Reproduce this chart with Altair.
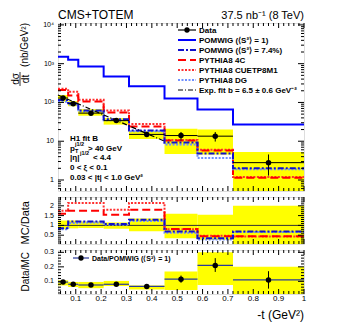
import altair as alt
import pandas as pd

# ---------------- data ----------------
edges = [0.03, 0.07, 0.11, 0.21, 0.31, 0.45, 0.58, 0.72, 1.0]
centers = [0.05, 0.09, 0.16, 0.26, 0.38, 0.515, 0.65, 0.86]

data_xsec = [130, 93, 53, 34, 15, 14, 13.5, 2.8]
data_err_lo = [122, 87, 49.5, 31.5, 13, 10.5, 9.8, 1.3]
data_err_hi = [138, 99, 57, 36.5, 17, 17.3, 17.3, 4.55]
data_band_lo = [105, 80, 45.5, 26.8, 11.4, 4.7, 4.55, 0.3]
data_band_hi = [155, 108, 67, 39.5, 18, 21, 20, 5.3]

pomwig_s1 = [1500, 1260, 840, 465, 260, 127, 66, 27]
pomwig_s74 = [115, 95, 62, 37, 19, 9.2, 4.8, 2.0]
pythia_4c = [210, 150, 106, 55, 24, 10.4, 5.8, 1.15]
pythia_cuetp = [225, 190, 117, 62, 28, 10.8, 6.0, 1.2]
pythia_dg = [105, 88, 58, 35, 18, 8.2, 3.7, 1.9]

expfit_t = [0.03, 0.45]
expfit_v = [155, 10]

# MC / Data ratio panel
r_4c = [1.6, 1.75, 1.75, 1.55, 1.8, 0.82, 0.45, 0.45]
r_cuetp = [1.75, 2.15, 2.15, 1.8, 2.15, 0.8, 0.47, 0.43]
r_s74 = [0.86, 1.2, 1.2, 1.07, 1.29, 0.69, 0.35, 0.69]
r_dg = [0.8, 1.12, 1.15, 1.03, 1.22, 0.62, 0.28, 0.66]
r_band_lo = [0.8, 0.85, 0.87, 0.83, 0.7, 0.35, 0.27, 0.0]
r_band_hi = [1.25, 1.25, 1.2, 1.15, 1.35, 1.6, 1.55, 2.0]

# Data / MC panel
dm_val = [0.095, 0.08, 0.075, 0.08, 0.065, 0.115, 0.21, 0.11]
dm_err_lo = [0.09, 0.075, 0.071, 0.075, 0.061, 0.09, 0.165, 0.05]
dm_err_hi = [0.1, 0.085, 0.079, 0.085, 0.069, 0.14, 0.26, 0.17]
dm_band_lo = [0.072, 0.061, 0.053, 0.068, 0.044, 0.04, 0.075, 0.0]
dm_band_hi = [0.107, 0.096, 0.096, 0.103, 0.072, 0.168, 0.30, 0.20]

legend_labels = [
    "Data",
    "POMWIG (⟨S²⟩ = 1)",
    "POMWIG (⟨S²⟩ = 7.4%)",
    "PYTHIA8 4C",
    "PYTHIA8 CUETP8M1",
    "PYTHIA8 DG",
    "Exp. fit b = 6.5 ± 0.6 GeV⁻²",
]

# ticks and tick labels
x_major = [0.1, 0.2, 0.3, 0.4, 0.5, 0.6, 0.7, 0.8, 0.9, 1.0]
x_labels = ["0.1", "0.2", "0.3", "0.4", "0.5", "0.6", "0.7", "0.8", "0.9", "1"]
x_minor = [0.04, 0.06, 0.08, 0.12, 0.14, 0.16, 0.18, 0.22, 0.24, 0.26, 0.28,
           0.32, 0.34, 0.36, 0.38, 0.42, 0.44, 0.46, 0.48, 0.52, 0.54, 0.56, 0.58,
           0.62, 0.64, 0.66, 0.68, 0.72, 0.74, 0.76, 0.78, 0.82, 0.84, 0.86, 0.88,
           0.92, 0.94, 0.96, 0.98]
main_major = [1, 10, 100, 1000, 10000]
main_labels = ["1", "10", "10²", "10³", "10⁴"]
main_minor = [0.6, 0.7, 0.8, 0.9, 2, 3, 4, 5, 6, 7, 8, 9, 20, 30, 40, 50, 60, 70, 80, 90,
              200, 300, 400, 500, 600, 700, 800, 900, 2000, 3000, 4000, 5000, 6000,
              7000, 8000, 9000]
r1_major = [0.5, 1.0, 1.5, 2.0]
r1_labels = ["0.5", "1", "1.5", "2"]
r1_minor = [0.1, 0.2, 0.3, 0.4, 0.6, 0.7, 0.8, 0.9, 1.1, 1.2, 1.3, 1.4, 1.6, 1.7,
            1.8, 1.9, 2.1, 2.2, 2.3, 2.4]
r2_major = [0.1, 0.2, 0.3]
r2_labels = ["0.1", "0.2", "0.3"]
r2_minor = [0.02, 0.04, 0.06, 0.08, 0.12, 0.14, 0.16, 0.18, 0.22, 0.24, 0.26, 0.28]

# ---------------- styles ----------------
FONT = "Liberation Sans"
W = 246
H_MAIN = 168
H_R1 = 47
H_R2 = 44

BLUE = "#0000ff"
BLUE2 = "#1010cc"
RED = "#ff0000"
PINK = "#ff3030"
LBLUE = "#6f8fff"
YEL = "#ffff00"

styles = {
    "pomwig_s1": dict(color=BLUE, strokeDash=[1, 0], strokeWidth=2),
    "pomwig_s74": dict(color=BLUE2, strokeDash=[6, 2, 2, 2], strokeWidth=2),
    "p4c": dict(color=RED, strokeDash=[8, 4], strokeWidth=2),
    "pcuetp": dict(color=PINK, strokeDash=[2, 1.5], strokeWidth=2),
    "pdg": dict(color=LBLUE, strokeDash=[2, 1.5], strokeWidth=2),
    "exp": dict(color="black", strokeDash=[5, 2, 1, 2], strokeWidth=1.2),
}

xscale = alt.Scale(domain=[0.03, 1.0], nice=False, zero=False)
ymain = alt.Scale(type="log", domain=[0.52, 11200], nice=False)
yr1 = alt.Scale(domain=[0.05, 2.45], nice=False, zero=False)
yr2 = alt.Scale(domain=[0.013, 0.316], nice=False, zero=False)


def bins_df(**cols):
    d = {"lo": edges[:-1], "hi": edges[1:], "c": centers}
    d.update(cols)
    return pd.DataFrame(d)


def step_df(vals):
    return pd.DataFrame({"t": edges, "v": list(vals) + [vals[-1]]})


def step_layer(vals, key, yscale):
    s = styles[key]
    return alt.Chart(step_df(vals)).mark_line(
        interpolate="step-after", clip=True, **s
    ).encode(x=alt.X("t:Q", scale=xscale), y=alt.Y("v:Q", scale=yscale))


def tick_layers(yscale, ymaj, ymin, ylabs, h):
    out = []
    for vals, ln in ((ymaj, 6), (ymin, 3)):
        df = pd.DataFrame({"v": vals})
        out.append(alt.Chart(df).mark_rule(color="black", strokeWidth=1).encode(
            y=alt.Y("v:Q", scale=yscale), x=alt.value(0), x2=alt.value(ln)))
        out.append(alt.Chart(df).mark_rule(color="black", strokeWidth=1).encode(
            y=alt.Y("v:Q", scale=yscale), x=alt.value(W - ln), x2=alt.value(W)))
    for vals, ln in ((x_major, 5), (x_minor, 3)):
        df = pd.DataFrame({"v": vals})
        out.append(alt.Chart(df).mark_rule(color="black", strokeWidth=1).encode(
            x=alt.X("v:Q", scale=xscale), y=alt.value(h - ln), y2=alt.value(h)))
        out.append(alt.Chart(df).mark_rule(color="black", strokeWidth=1).encode(
            x=alt.X("v:Q", scale=xscale), y=alt.value(0), y2=alt.value(ln)))
    ldf = pd.DataFrame({"v": ymaj, "lab": ylabs})
    out.append(alt.Chart(ldf).mark_text(
        align="right", baseline="middle", font=FONT, fontSize=7, color="black"
    ).encode(y=alt.Y("v:Q", scale=yscale), x=alt.value(-4), text="lab:N"))
    return out


one = pd.DataFrame({"a": [0]})


def txt(s, x, y, size=8, bold=True, align="left", angle=0, baseline="alphabetic"):
    return alt.Chart(one).mark_text(
        text=s, align=align, baseline=baseline, font=FONT, fontSize=size, angle=angle,
        fontWeight="bold" if bold else "normal", color="black"
    ).encode(x=alt.value(x), y=alt.value(y))


# ---------------- main panel ----------------
dmain = bins_df(d=data_xsec, elo=data_err_lo, ehi=data_err_hi, blo=data_band_lo, bhi=data_band_hi)

band = alt.Chart(dmain).mark_rect(color=YEL, clip=True).encode(
    x=alt.X("lo:Q", scale=xscale, axis=None),
    x2="hi:Q",
    y=alt.Y("blo:Q", scale=ymain, axis=None),
    y2="bhi:Q",
)

hbar = alt.Chart(dmain).mark_rule(color="black", strokeWidth=1).encode(
    x=alt.X("lo:Q", scale=xscale), x2="hi:Q", y=alt.Y("d:Q", scale=ymain))
vbar = alt.Chart(dmain).mark_rule(color="black", strokeWidth=1).encode(
    x=alt.X("c:Q", scale=xscale), y=alt.Y("elo:Q", scale=ymain), y2="ehi:Q")
pts = alt.Chart(dmain).mark_circle(color="black", size=30, opacity=1).encode(
    x=alt.X("c:Q", scale=xscale), y=alt.Y("d:Q", scale=ymain))

expline = alt.Chart(pd.DataFrame({"t": expfit_t, "v": expfit_v})).mark_line(
    **styles["exp"]).encode(x=alt.X("t:Q", scale=xscale), y=alt.Y("v:Q", scale=ymain))

layers = [band,
          step_layer(pomwig_s1, "pomwig_s1", ymain),
          step_layer(pythia_cuetp, "pcuetp", ymain),
          step_layer(pythia_4c, "p4c", ymain),
          step_layer(pythia_dg, "pdg", ymain),
          step_layer(pomwig_s74, "pomwig_s74", ymain),
          expline, hbar, vbar, pts]
layers += tick_layers(ymain, main_major, main_minor, main_labels, H_MAIN)

# legend (manual)
leg_keys = [None, "pomwig_s1", "pomwig_s74", "p4c", "pcuetp", "pdg", "exp"]
for i, (lab, key) in enumerate(zip(legend_labels, leg_keys)):
    yy = 7 + i * 10
    if key is None:
        layers.append(alt.Chart(one).mark_rule(color="black", strokeWidth=1.2).encode(
            x=alt.value(120), x2=alt.value(138), y=alt.value(yy)))
        layers.append(alt.Chart(one).mark_circle(color="black", size=28, opacity=1).encode(
            x=alt.value(129), y=alt.value(yy)))
    else:
        layers.append(alt.Chart(one).mark_rule(**styles[key]).encode(
            x=alt.value(120), x2=alt.value(138), y=alt.value(yy)))
    layers.append(txt(lab, 141, yy + 3, size=8))

# y title as a fraction  d(sigma)/dt  (nb/GeV^2)
layers += [
    txt("(nb/GeV²)", -30, 0, size=10, bold=False, align="right", angle=270),
    txt("dσ", -39.5, 56, size=10, bold=False, align="center", angle=270),
    txt("dt", -29.5, 56, size=10, bold=False, align="center", angle=270),
    alt.Chart(one).mark_rule(color="black", strokeWidth=0.8).encode(
        x=alt.value(-38), y=alt.value(49), y2=alt.value(63)),
]

# annotations
layers += [
    txt("H1 fit B", 12, 117.5),
    txt("p", 12, 127.5), txt("T", 17, 129.5, size=5.5), txt("j1/2", 17, 123, size=5.5),
    txt("> 40 GeV", 30, 127.5),
    txt("|η|", 12, 136.5), txt("j1/2", 22, 132, size=5.5), txt("< 4.4", 35, 136.5),
    txt("0 < ξ < 0.1", 12, 147),
    txt("0.03 < |t| < 1.0 GeV²", 12, 156.5),
    txt("CMS+TOTEM", 0, -4, size=12, bold=False),
    txt("37.5 nb⁻¹ (8 TeV)", W, -4, size=11, bold=False, align="right"),
]

main = alt.layer(*layers).properties(width=W, height=H_MAIN)

# ---------------- MC / Data panel ----------------
dr1 = bins_df(blo=r_band_lo, bhi=r_band_hi)
r1_band = alt.Chart(dr1).mark_rect(color=YEL, clip=True).encode(
    x=alt.X("lo:Q", scale=xscale, axis=None), x2="hi:Q",
    y=alt.Y("blo:Q", scale=yr1, axis=None), y2="bhi:Q")
r1_one = alt.Chart(one).mark_rule(color="#333", strokeWidth=1).encode(
    y=alt.datum(1, scale=yr1))
r1 = alt.layer(
    r1_band, r1_one,
    step_layer(r_cuetp, "pcuetp", yr1),
    step_layer(r_4c, "p4c", yr1),
    step_layer(r_dg, "pdg", yr1),
    step_layer(r_s74, "pomwig_s74", yr1),
    *tick_layers(yr1, r1_major, r1_minor, r1_labels, H_R1),
    txt("MC/Data", -29, 4, size=11, bold=False, align="right", angle=270),
).properties(width=W, height=H_R1)

# ---------------- Data / MC panel ----------------
dr2 = bins_df(d=dm_val, elo=dm_err_lo, ehi=dm_err_hi, blo=dm_band_lo, bhi=dm_band_hi)
r2_band = alt.Chart(dr2).mark_rect(color=YEL, clip=True).encode(
    x=alt.X("lo:Q", scale=xscale, axis=None), x2="hi:Q",
    y=alt.Y("blo:Q", scale=yr2, axis=None), y2="bhi:Q")
r2_h = alt.Chart(dr2).mark_rule(color="#2a3a9a", strokeWidth=1.2).encode(
    x=alt.X("lo:Q", scale=xscale), x2="hi:Q", y=alt.Y("d:Q", scale=yr2))
r2_v = alt.Chart(dr2).mark_rule(color="black", strokeWidth=1).encode(
    x=alt.X("c:Q", scale=xscale), y=alt.Y("elo:Q", scale=yr2), y2="ehi:Q")
r2_p = alt.Chart(dr2).mark_circle(color="black", size=30, opacity=1).encode(
    x=alt.X("c:Q", scale=xscale), y=alt.Y("d:Q", scale=yr2))
r2_leg_line = alt.Chart(one).mark_rule(color="#2a3a9a", strokeWidth=1.2).encode(
    x=alt.value(15), x2=alt.value(31), y=alt.value(8))
r2_leg_pt = alt.Chart(one).mark_circle(color="black", size=28, opacity=1).encode(
    x=alt.value(23), y=alt.value(8))
xlab_df = pd.DataFrame({"v": x_major, "lab": x_labels})
r2_xlabs = alt.Chart(xlab_df).mark_text(
    align="center", baseline="top", font=FONT, fontSize=8, color="black"
).encode(x=alt.X("v:Q", scale=xscale), y=alt.value(H_R2 + 0.5), text="lab:N")
r2 = alt.layer(
    r2_band, r2_h, r2_v, r2_p, r2_leg_line, r2_leg_pt,
    txt("Data/POMWIG (⟨S²⟩ = 1)", 34, 10.5, size=7),
    *tick_layers(yr2, r2_major, r2_minor, r2_labels, H_R2),
    r2_xlabs,
    txt("Data/MC", -29, 2, size=10, bold=False, align="right", angle=270),
    txt("-t (GeV²)", W, H_R2 + 25, size=12, bold=False, align="right"),
).properties(width=W, height=H_R2)

chart = alt.vconcat(main, r1, r2, spacing=6, bounds="flush").properties(
    padding={"left": 2, "top": 0, "right": 4, "bottom": 0}
).configure_view(stroke="black", strokeWidth=1).configure(font=FONT)

chart.save("out.html", embed_options={"renderer": "svg", "actions": False})
